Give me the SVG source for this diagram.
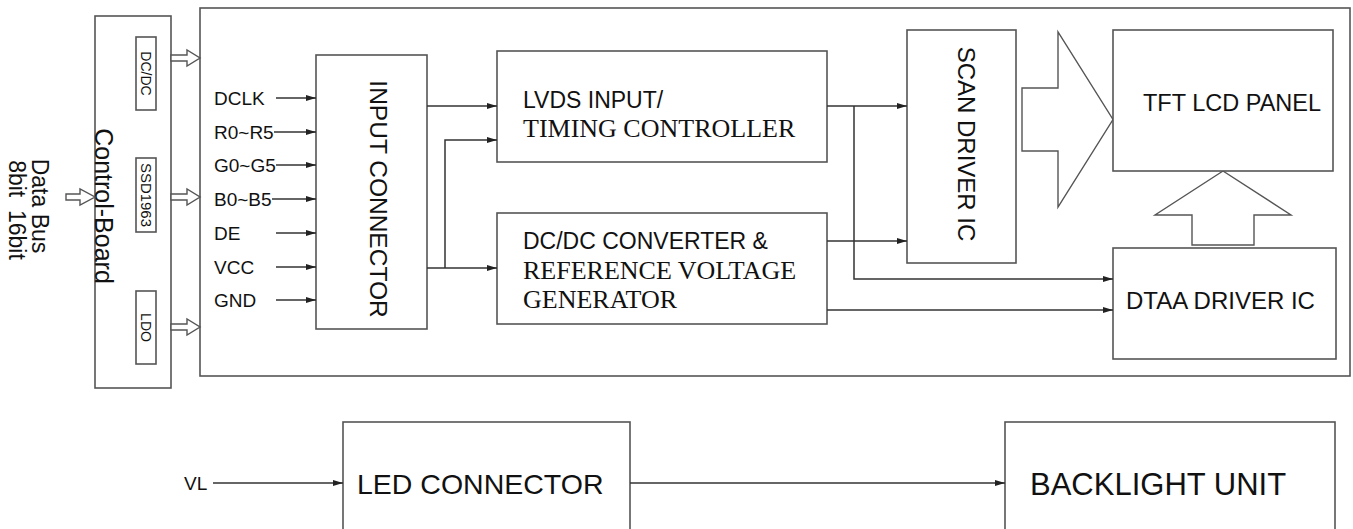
<svg xmlns="http://www.w3.org/2000/svg" width="1353" height="529" viewBox="0 0 1353 529">
<defs>
<marker id="ah" markerUnits="userSpaceOnUse" markerWidth="10" markerHeight="6" refX="10" refY="3" orient="auto">
<path d="M0,0 L10,3 L0,6 z" fill="#222"/>
</marker>
<style>
.box{fill:#fff;stroke:#555;stroke-width:1.6}
.ln{fill:none;stroke:#333;stroke-width:1.5}
.arr{fill:none;stroke:#333;stroke-width:1.5;marker-end:url(#ah)}
.blk{fill:#fff;stroke:#555;stroke-width:1.4}
.s{font-family:"Liberation Sans",Arial,sans-serif;fill:#111}
.t{font-family:"Liberation Serif","Times New Roman",serif;fill:#111}
</style>
</defs>
<rect width="1353" height="529" fill="#fff"/>

<g id="databus">
<text class="s" font-size="23" text-anchor="middle" transform="translate(40,206) rotate(90)" dy="0.35em">Data Bus</text>
<text class="s" font-size="23" text-anchor="middle" transform="translate(17,210) rotate(90)" dy="0.35em">8bit&#160; 16bit</text>
</g>

<g id="mainframe">
<rect class="box" x="200" y="8" width="1150" height="368"/>
</g>

<g id="control-board">
<rect class="box" x="95" y="16" width="76" height="372"/>
<text class="s" font-size="25" text-anchor="middle" transform="translate(104,206) rotate(90)" dy="0.35em">Control-Board</text>
<g id="dcdc-small">
<rect class="box" x="136" y="37" width="20" height="73"/>
<text class="s" font-size="14" text-anchor="middle" transform="translate(146,73.5) rotate(90)" dy="0.35em">DC/DC</text>
</g>
<g id="ssd1963">
<rect class="box" x="136" y="158" width="20" height="74"/>
<text class="s" font-size="14" text-anchor="middle" transform="translate(146,195) rotate(90)" dy="0.35em" textLength="64" lengthAdjust="spacingAndGlyphs">SSD1963</text>
</g>
<g id="ldo">
<rect class="box" x="136" y="291" width="20" height="73"/>
<text class="s" font-size="14" text-anchor="middle" transform="translate(146,327.5) rotate(90)" dy="0.35em">LDO</text>
</g>
</g>

<g id="block-arrows">
<polygon class="blk" points="66,194 80,194 80,189 95,197 80,205 80,200 66,200"/>
<polygon class="blk" points="171,55 187,55 187,50 200,58 187,66 187,61 171,61"/>
<polygon class="blk" points="171,194 187,194 187,189 200,197 187,205 187,200 171,200"/>
<polygon class="blk" points="171,324 187,324 187,319 200,327 187,335 187,330 171,330"/>
<polygon class="blk" points="1022,88 1058,88 1058,32 1113,119.5 1058,207 1058,151 1022,151"/>
<polygon class="blk" points="1192,245 1192,215 1155,215 1223,171 1291,215 1254,215 1254,245"/>
</g>

<g id="input-labels" class="s" font-size="19">
<text x="214" y="105">DCLK</text>
<text x="214" y="139">R0~R5</text>
<text x="214" y="172">G0~G5</text>
<text x="214" y="206">B0~B5</text>
<text x="214" y="240">DE</text>
<text x="214" y="274">VCC</text>
<text x="214" y="307">GND</text>
</g>

<g id="input-connector">
<rect class="box" x="316" y="55" width="111" height="274"/>
<text class="s" font-size="24.5" text-anchor="middle" transform="translate(379,199) rotate(90)" dy="0.35em">INPUT CONNECTOR</text>
</g>

<g id="lvds">
<rect class="box" x="497" y="51" width="330" height="111"/>
<text class="s" font-size="23" x="523" y="108">LVDS INPUT/</text>
<text class="t" font-size="26" x="523" y="137">TIMING CONTROLLER</text>
</g>

<g id="dcdc-converter">
<rect class="box" x="497" y="213" width="330" height="111"/>
<text class="s" font-size="23" x="523" y="249">DC/DC CONVERTER &amp;</text>
<text class="t" font-size="26" x="523" y="279">REFERENCE VOLTAGE</text>
<text class="t" font-size="26" x="523" y="308">GENERATOR</text>
</g>

<g id="scan-driver">
<rect class="box" x="907" y="30" width="109" height="233"/>
<text class="s" font-size="24" text-anchor="middle" transform="translate(966,144) rotate(90)" dy="0.35em">SCAN DRIVER IC</text>
</g>

<g id="tft-panel">
<rect class="box" x="1113" y="30" width="220" height="141"/>
<text class="s" font-size="23.5" x="1143" y="111">TFT LCD PANEL</text>
</g>

<g id="data-driver">
<rect class="box" x="1113" y="248" width="223" height="111"/>
<text class="s" font-size="24" x="1126" y="309">DTAA DRIVER IC</text>
</g>

<g id="led-connector">
<rect class="box" x="343" y="422" width="287" height="130"/>
<text class="s" font-size="28.5" x="357" y="494">LED CONNECTOR</text>
</g>

<g id="backlight">
<rect class="box" x="1005" y="422" width="330" height="130"/>
<text class="s" font-size="31" x="1030" y="495">BACKLIGHT UNIT</text>
</g>

<text class="s" font-size="19" x="184" y="490">VL</text>

<g id="connectors">
<line class="arr" x1="276" y1="98" x2="316" y2="98"/>
<line class="arr" x1="274" y1="132" x2="316" y2="132"/>
<line class="arr" x1="276" y1="165" x2="316" y2="165"/>
<line class="arr" x1="272" y1="199" x2="316" y2="199"/>
<line class="arr" x1="276" y1="233" x2="316" y2="233"/>
<line class="arr" x1="276" y1="267" x2="316" y2="267"/>
<line class="arr" x1="276" y1="300" x2="316" y2="300"/>
<line class="arr" x1="427" y1="106" x2="497" y2="106"/>
<line class="arr" x1="427" y1="268" x2="497" y2="268"/>
<polyline class="arr" points="445,268 445,140 497,140"/>
<line class="arr" x1="827" y1="106" x2="907" y2="106"/>
<polyline class="arr" points="854,106 854,279 1113,279"/>
<line class="arr" x1="827" y1="241" x2="907" y2="241"/>
<line class="arr" x1="827" y1="310" x2="1113" y2="310"/>
<line class="arr" x1="213" y1="483" x2="343" y2="483"/>
<line class="arr" x1="630" y1="483" x2="1005" y2="483"/>
</g>
</svg>
